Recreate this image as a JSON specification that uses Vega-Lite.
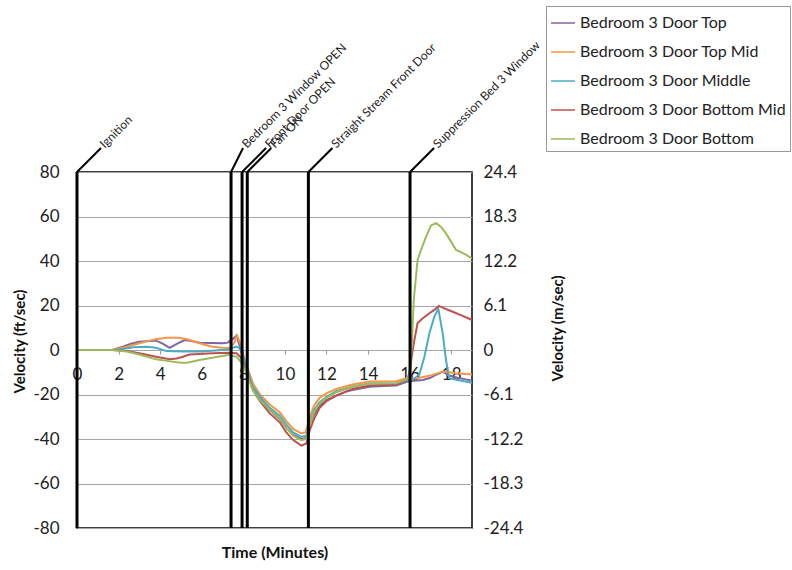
{
  "$schema": "https://vega.github.io/schema/vega-lite/v6.json",
  "width": 395,
  "height": 356,
  "autosize": {"type": "none"},
  "padding": {"left": 77, "top": 172, "right": 320, "bottom": 42},
  "background": "white",
  "config": {
    "font": "Lato",
    "view": {"stroke": "#000", "strokeWidth": 1.5},
    "axis": {"labelFont": "Lato", "labelFontSize": 17, "labelColor": "#222", "titleFont": "Lato", "titleFontSize": 15, "titleFontWeight": "bold", "titleColor": "#111"}
  },
  "datasets": {
    "series": [
      {"s":"Bedroom 3 Door Top","t":0,"v":0},{"s":"Bedroom 3 Door Top","t":1,"v":0},{"s":"Bedroom 3 Door Top","t":1.7,"v":0},{"s":"Bedroom 3 Door Top","t":2.2,"v":1.5},{"s":"Bedroom 3 Door Top","t":2.6,"v":2.8},{"s":"Bedroom 3 Door Top","t":3.0,"v":3.7},{"s":"Bedroom 3 Door Top","t":3.5,"v":4.0},{"s":"Bedroom 3 Door Top","t":3.8,"v":4.2},{"s":"Bedroom 3 Door Top","t":4.1,"v":3.0},{"s":"Bedroom 3 Door Top","t":4.46,"v":1.0},{"s":"Bedroom 3 Door Top","t":4.8,"v":2.8},{"s":"Bedroom 3 Door Top","t":5.18,"v":4.5},{"s":"Bedroom 3 Door Top","t":5.5,"v":4.0},{"s":"Bedroom 3 Door Top","t":5.9,"v":3.3},{"s":"Bedroom 3 Door Top","t":6.5,"v":3.2},{"s":"Bedroom 3 Door Top","t":7.0,"v":3.0},{"s":"Bedroom 3 Door Top","t":7.25,"v":3.3},{"s":"Bedroom 3 Door Top","t":7.5,"v":5.0},{"s":"Bedroom 3 Door Top","t":7.67,"v":6.5},{"s":"Bedroom 3 Door Top","t":7.82,"v":2.0},{"s":"Bedroom 3 Door Top","t":8.0,"v":-4},{"s":"Bedroom 3 Door Top","t":8.2,"v":-10},{"s":"Bedroom 3 Door Top","t":8.46,"v":-17},{"s":"Bedroom 3 Door Top","t":8.8,"v":-22},{"s":"Bedroom 3 Door Top","t":9.27,"v":-27},{"s":"Bedroom 3 Door Top","t":9.75,"v":-31},{"s":"Bedroom 3 Door Top","t":10.07,"v":-35},{"s":"Bedroom 3 Door Top","t":10.4,"v":-38},{"s":"Bedroom 3 Door Top","t":10.79,"v":-40},{"s":"Bedroom 3 Door Top","t":11.03,"v":-39.5},{"s":"Bedroom 3 Door Top","t":11.2,"v":-33},{"s":"Bedroom 3 Door Top","t":11.4,"v":-29},{"s":"Bedroom 3 Door Top","t":11.67,"v":-25},{"s":"Bedroom 3 Door Top","t":12.0,"v":-22.5},{"s":"Bedroom 3 Door Top","t":12.47,"v":-20.5},{"s":"Bedroom 3 Door Top","t":13.0,"v":-18.5},{"s":"Bedroom 3 Door Top","t":13.25,"v":-18},{"s":"Bedroom 3 Door Top","t":14.07,"v":-16.5},{"s":"Bedroom 3 Door Top","t":14.5,"v":-16.3},{"s":"Bedroom 3 Door Top","t":15.35,"v":-16},{"s":"Bedroom 3 Door Top","t":15.9,"v":-14.2},{"s":"Bedroom 3 Door Top","t":16.2,"v":-13.8},{"s":"Bedroom 3 Door Top","t":16.63,"v":-13.5},{"s":"Bedroom 3 Door Top","t":17.0,"v":-12.5},{"s":"Bedroom 3 Door Top","t":17.3,"v":-11},{"s":"Bedroom 3 Door Top","t":17.6,"v":-9.7},{"s":"Bedroom 3 Door Top","t":17.9,"v":-11.5},{"s":"Bedroom 3 Door Top","t":18.3,"v":-12.5},{"s":"Bedroom 3 Door Top","t":18.7,"v":-13.2},{"s":"Bedroom 3 Door Top","t":19.0,"v":-13.8},

      {"s":"Bedroom 3 Door Top Mid","t":0,"v":0},{"s":"Bedroom 3 Door Top Mid","t":1.7,"v":0},{"s":"Bedroom 3 Door Top Mid","t":2.2,"v":1},{"s":"Bedroom 3 Door Top Mid","t":2.6,"v":2},{"s":"Bedroom 3 Door Top Mid","t":3.0,"v":3},{"s":"Bedroom 3 Door Top Mid","t":3.4,"v":4},{"s":"Bedroom 3 Door Top Mid","t":3.8,"v":4.8},{"s":"Bedroom 3 Door Top Mid","t":4.3,"v":5.5},{"s":"Bedroom 3 Door Top Mid","t":4.9,"v":5.5},{"s":"Bedroom 3 Door Top Mid","t":5.3,"v":4.8},{"s":"Bedroom 3 Door Top Mid","t":5.9,"v":3},{"s":"Bedroom 3 Door Top Mid","t":6.5,"v":1.5},{"s":"Bedroom 3 Door Top Mid","t":7.0,"v":1.0},{"s":"Bedroom 3 Door Top Mid","t":7.35,"v":0.9},{"s":"Bedroom 3 Door Top Mid","t":7.55,"v":3},{"s":"Bedroom 3 Door Top Mid","t":7.7,"v":6.5},{"s":"Bedroom 3 Door Top Mid","t":7.85,"v":3},{"s":"Bedroom 3 Door Top Mid","t":8.0,"v":-2},{"s":"Bedroom 3 Door Top Mid","t":8.2,"v":-8},{"s":"Bedroom 3 Door Top Mid","t":8.46,"v":-15},{"s":"Bedroom 3 Door Top Mid","t":8.8,"v":-20},{"s":"Bedroom 3 Door Top Mid","t":9.27,"v":-24.5},{"s":"Bedroom 3 Door Top Mid","t":9.75,"v":-28},{"s":"Bedroom 3 Door Top Mid","t":10.07,"v":-32},{"s":"Bedroom 3 Door Top Mid","t":10.4,"v":-35.5},{"s":"Bedroom 3 Door Top Mid","t":10.79,"v":-37.5},{"s":"Bedroom 3 Door Top Mid","t":11.0,"v":-37},{"s":"Bedroom 3 Door Top Mid","t":11.2,"v":-30},{"s":"Bedroom 3 Door Top Mid","t":11.4,"v":-25},{"s":"Bedroom 3 Door Top Mid","t":11.67,"v":-21.5},{"s":"Bedroom 3 Door Top Mid","t":12.0,"v":-19.5},{"s":"Bedroom 3 Door Top Mid","t":12.47,"v":-17.5},{"s":"Bedroom 3 Door Top Mid","t":13.25,"v":-15.5},{"s":"Bedroom 3 Door Top Mid","t":14.07,"v":-14.2},{"s":"Bedroom 3 Door Top Mid","t":15.35,"v":-14},{"s":"Bedroom 3 Door Top Mid","t":15.9,"v":-12.6},{"s":"Bedroom 3 Door Top Mid","t":16.3,"v":-12.8},{"s":"Bedroom 3 Door Top Mid","t":17.0,"v":-11.5},{"s":"Bedroom 3 Door Top Mid","t":17.6,"v":-9.7},{"s":"Bedroom 3 Door Top Mid","t":18.23,"v":-10.5},{"s":"Bedroom 3 Door Top Mid","t":19.0,"v":-11},

      {"s":"Bedroom 3 Door Middle","t":0,"v":0},{"s":"Bedroom 3 Door Middle","t":1.7,"v":0},{"s":"Bedroom 3 Door Middle","t":2.2,"v":0.5},{"s":"Bedroom 3 Door Middle","t":2.7,"v":1.2},{"s":"Bedroom 3 Door Middle","t":3.34,"v":1.5},{"s":"Bedroom 3 Door Middle","t":3.8,"v":1.0},{"s":"Bedroom 3 Door Middle","t":4.3,"v":-0.5},{"s":"Bedroom 3 Door Middle","t":5.1,"v":-0.7},{"s":"Bedroom 3 Door Middle","t":5.9,"v":-0.7},{"s":"Bedroom 3 Door Middle","t":6.5,"v":-0.3},{"s":"Bedroom 3 Door Middle","t":7.25,"v":0.2},{"s":"Bedroom 3 Door Middle","t":7.67,"v":1.5},{"s":"Bedroom 3 Door Middle","t":7.85,"v":0.5},{"s":"Bedroom 3 Door Middle","t":8.0,"v":-3},{"s":"Bedroom 3 Door Middle","t":8.2,"v":-9},{"s":"Bedroom 3 Door Middle","t":8.46,"v":-16.5},{"s":"Bedroom 3 Door Middle","t":8.8,"v":-21},{"s":"Bedroom 3 Door Middle","t":9.27,"v":-26},{"s":"Bedroom 3 Door Middle","t":9.75,"v":-29.5},{"s":"Bedroom 3 Door Middle","t":10.07,"v":-33.5},{"s":"Bedroom 3 Door Middle","t":10.4,"v":-37},{"s":"Bedroom 3 Door Middle","t":10.79,"v":-39},{"s":"Bedroom 3 Door Middle","t":11.03,"v":-38.5},{"s":"Bedroom 3 Door Middle","t":11.2,"v":-32},{"s":"Bedroom 3 Door Middle","t":11.4,"v":-27},{"s":"Bedroom 3 Door Middle","t":11.67,"v":-23.5},{"s":"Bedroom 3 Door Middle","t":12.0,"v":-21},{"s":"Bedroom 3 Door Middle","t":12.47,"v":-18.5},{"s":"Bedroom 3 Door Middle","t":13.25,"v":-16.5},{"s":"Bedroom 3 Door Middle","t":14.07,"v":-15},{"s":"Bedroom 3 Door Middle","t":15.35,"v":-15},{"s":"Bedroom 3 Door Middle","t":15.9,"v":-13.5},{"s":"Bedroom 3 Door Middle","t":16.2,"v":-13},{"s":"Bedroom 3 Door Middle","t":16.47,"v":-11},{"s":"Bedroom 3 Door Middle","t":16.71,"v":-3},{"s":"Bedroom 3 Door Middle","t":16.95,"v":7.5},{"s":"Bedroom 3 Door Middle","t":17.19,"v":15},{"s":"Bedroom 3 Door Middle","t":17.38,"v":18.5},{"s":"Bedroom 3 Door Middle","t":17.59,"v":7.5},{"s":"Bedroom 3 Door Middle","t":17.75,"v":-4.5},{"s":"Bedroom 3 Door Middle","t":17.9,"v":-12.7},{"s":"Bedroom 3 Door Middle","t":18.3,"v":-13.5},{"s":"Bedroom 3 Door Middle","t":19.0,"v":-14.7},

      {"s":"Bedroom 3 Door Bottom Mid","t":0,"v":0},{"s":"Bedroom 3 Door Bottom Mid","t":1.7,"v":0},{"s":"Bedroom 3 Door Bottom Mid","t":2.4,"v":-0.4},{"s":"Bedroom 3 Door Bottom Mid","t":3.0,"v":-1.5},{"s":"Bedroom 3 Door Bottom Mid","t":3.8,"v":-3},{"s":"Bedroom 3 Door Bottom Mid","t":4.46,"v":-4.2},{"s":"Bedroom 3 Door Bottom Mid","t":4.8,"v":-3.8},{"s":"Bedroom 3 Door Bottom Mid","t":5.1,"v":-3},{"s":"Bedroom 3 Door Bottom Mid","t":5.4,"v":-2},{"s":"Bedroom 3 Door Bottom Mid","t":5.9,"v":-1.8},{"s":"Bedroom 3 Door Bottom Mid","t":6.5,"v":-1.5},{"s":"Bedroom 3 Door Bottom Mid","t":7.25,"v":-1.2},{"s":"Bedroom 3 Door Bottom Mid","t":7.67,"v":-1.5},{"s":"Bedroom 3 Door Bottom Mid","t":7.85,"v":-3},{"s":"Bedroom 3 Door Bottom Mid","t":8.0,"v":-6},{"s":"Bedroom 3 Door Bottom Mid","t":8.2,"v":-11},{"s":"Bedroom 3 Door Bottom Mid","t":8.46,"v":-18},{"s":"Bedroom 3 Door Bottom Mid","t":8.8,"v":-23},{"s":"Bedroom 3 Door Bottom Mid","t":9.27,"v":-28.5},{"s":"Bedroom 3 Door Bottom Mid","t":9.75,"v":-32.5},{"s":"Bedroom 3 Door Bottom Mid","t":10.07,"v":-37},{"s":"Bedroom 3 Door Bottom Mid","t":10.4,"v":-40.5},{"s":"Bedroom 3 Door Bottom Mid","t":10.79,"v":-43},{"s":"Bedroom 3 Door Bottom Mid","t":11.03,"v":-42},{"s":"Bedroom 3 Door Bottom Mid","t":11.2,"v":-36},{"s":"Bedroom 3 Door Bottom Mid","t":11.4,"v":-31},{"s":"Bedroom 3 Door Bottom Mid","t":11.67,"v":-26},{"s":"Bedroom 3 Door Bottom Mid","t":12.0,"v":-23},{"s":"Bedroom 3 Door Bottom Mid","t":12.47,"v":-20.5},{"s":"Bedroom 3 Door Bottom Mid","t":13.25,"v":-17.5},{"s":"Bedroom 3 Door Bottom Mid","t":14.07,"v":-16},{"s":"Bedroom 3 Door Bottom Mid","t":15.35,"v":-15.5},{"s":"Bedroom 3 Door Bottom Mid","t":15.9,"v":-13},{"s":"Bedroom 3 Door Bottom Mid","t":15.98,"v":-10.5},{"s":"Bedroom 3 Door Bottom Mid","t":16.2,"v":3},{"s":"Bedroom 3 Door Bottom Mid","t":16.38,"v":12},{"s":"Bedroom 3 Door Bottom Mid","t":16.62,"v":14.2},{"s":"Bedroom 3 Door Bottom Mid","t":16.95,"v":16.5},{"s":"Bedroom 3 Door Bottom Mid","t":17.19,"v":18},{"s":"Bedroom 3 Door Bottom Mid","t":17.4,"v":19.8},{"s":"Bedroom 3 Door Bottom Mid","t":17.67,"v":18.7},{"s":"Bedroom 3 Door Bottom Mid","t":18.07,"v":17.2},{"s":"Bedroom 3 Door Bottom Mid","t":18.47,"v":15.7},{"s":"Bedroom 3 Door Bottom Mid","t":19.0,"v":13.5},

      {"s":"Bedroom 3 Door Bottom","t":0,"v":0},{"s":"Bedroom 3 Door Bottom","t":1.7,"v":0},{"s":"Bedroom 3 Door Bottom","t":2.4,"v":-0.7},{"s":"Bedroom 3 Door Bottom","t":3.0,"v":-2},{"s":"Bedroom 3 Door Bottom","t":3.8,"v":-4.2},{"s":"Bedroom 3 Door Bottom","t":4.4,"v":-5},{"s":"Bedroom 3 Door Bottom","t":5.0,"v":-5.7},{"s":"Bedroom 3 Door Bottom","t":5.3,"v":-5.7},{"s":"Bedroom 3 Door Bottom","t":5.9,"v":-4.5},{"s":"Bedroom 3 Door Bottom","t":6.5,"v":-3.5},{"s":"Bedroom 3 Door Bottom","t":7.25,"v":-2.2},{"s":"Bedroom 3 Door Bottom","t":7.67,"v":-3},{"s":"Bedroom 3 Door Bottom","t":7.85,"v":-5},{"s":"Bedroom 3 Door Bottom","t":8.0,"v":-7},{"s":"Bedroom 3 Door Bottom","t":8.2,"v":-11.5},{"s":"Bedroom 3 Door Bottom","t":8.46,"v":-18},{"s":"Bedroom 3 Door Bottom","t":8.8,"v":-22.5},{"s":"Bedroom 3 Door Bottom","t":9.27,"v":-27},{"s":"Bedroom 3 Door Bottom","t":9.75,"v":-30.5},{"s":"Bedroom 3 Door Bottom","t":10.07,"v":-35},{"s":"Bedroom 3 Door Bottom","t":10.4,"v":-38.5},{"s":"Bedroom 3 Door Bottom","t":10.79,"v":-40.5},{"s":"Bedroom 3 Door Bottom","t":11.03,"v":-40},{"s":"Bedroom 3 Door Bottom","t":11.2,"v":-33},{"s":"Bedroom 3 Door Bottom","t":11.4,"v":-28},{"s":"Bedroom 3 Door Bottom","t":11.67,"v":-24},{"s":"Bedroom 3 Door Bottom","t":12.0,"v":-21.5},{"s":"Bedroom 3 Door Bottom","t":12.47,"v":-19},{"s":"Bedroom 3 Door Bottom","t":13.25,"v":-16.5},{"s":"Bedroom 3 Door Bottom","t":14.07,"v":-15.2},{"s":"Bedroom 3 Door Bottom","t":15.35,"v":-15},{"s":"Bedroom 3 Door Bottom","t":15.9,"v":-13},{"s":"Bedroom 3 Door Bottom","t":16.0,"v":-11},{"s":"Bedroom 3 Door Bottom","t":16.1,"v":2},{"s":"Bedroom 3 Door Bottom","t":16.2,"v":22.5},{"s":"Bedroom 3 Door Bottom","t":16.38,"v":40.4},{"s":"Bedroom 3 Door Bottom","t":16.55,"v":45},{"s":"Bedroom 3 Door Bottom","t":16.79,"v":51},{"s":"Bedroom 3 Door Bottom","t":17.03,"v":56},{"s":"Bedroom 3 Door Bottom","t":17.27,"v":57},{"s":"Bedroom 3 Door Bottom","t":17.5,"v":55.4},{"s":"Bedroom 3 Door Bottom","t":17.75,"v":52.4},{"s":"Bedroom 3 Door Bottom","t":17.99,"v":48.7},{"s":"Bedroom 3 Door Bottom","t":18.23,"v":45},{"s":"Bedroom 3 Door Bottom","t":18.55,"v":43.7},{"s":"Bedroom 3 Door Bottom","t":19.0,"v":41.2}
    ],
    "events": [
      {"event":"Ignition","t":0},
      {"event":"Bedroom 3 Window OPEN","t":7.41},
      {"event":"Front Door OPEN","t":7.94},
      {"event":"Fan ON","t":8.19},
      {"event":"Straight Stream Front Door","t":11.13},
      {"event":"Suppression Bed 3 Window","t":16.02}
    ]
  },
  "layer": [
    {
      "layer": [
        {
          "data": {"name": "series"},
          "mark": {"type": "line", "strokeWidth": 2, "clip": true},
          "encoding": {
            "x": {"field": "t", "type": "quantitative", "scale": {"domain": [0, 19], "nice": false, "zero": false},
                  "axis": {"title": "Time (Minutes)", "values": [0,2,4,6,8,10,12,14,16,18], "offset": -178, "domain": false, "ticks": true, "tickSize": 4, "tickColor": "#999", "labelPadding": 12, "labelFlush": false, "labelOverlap": false, "grid": false, "titleY": 202, "titleBaseline": "middle", "titleFontSize": 16}},
            "y": {"field": "v", "type": "quantitative", "scale": {"domain": [-80, 80], "nice": false, "zero": false},
                  "axis": {"title": "Velocity (ft/sec)", "values": [-80,-60,-40,-20,0,20,40,60,80], "labelExpr": "'' + datum.value", "domain": false, "ticks": false, "labelPadding": 18, "grid": true, "gridColor": "#A6A6A6", "gridWidth": 1, "titleX": -58, "titleY": 169, "titleAngle": 270, "titleBaseline": "middle", "titleAlign": "center"}},
            "color": {"field": "s", "type": "nominal",
                      "scale": {"domain": ["Bedroom 3 Door Top","Bedroom 3 Door Top Mid","Bedroom 3 Door Middle","Bedroom 3 Door Bottom Mid","Bedroom 3 Door Bottom"],
                                "range": ["#8064A2","#F79646","#4BACC6","#C0504D","#9BBB59"]},
                      "legend": {"title": null, "orient": "none", "legendX": 469, "legendY": -166, "labelFont": "Lato", "labelFontSize": 16, "labelColor": "#222", "labelLimit": 400, "symbolType": "stroke", "symbolSize": 576, "symbolStrokeWidth": 1.5, "strokeColor": "#999", "fillColor": "white", "padding": 4, "rowPadding": 8, "labelOffset": 4}}
          }
        },
        {
          "data": {"name": "events"},
          "mark": {"type": "rule", "strokeWidth": 3, "color": "#000"},
          "encoding": {
            "x": {"field": "t", "type": "quantitative"},
            "y": {"datum": -80, "type": "quantitative"},
            "y2": {"datum": 80}
          }
        },
        {
          "data": {"name": "events"},
          "transform": [{"filter": "datum.event != 'Bedroom 3 Window OPEN'"}],
          "mark": {"type": "rule", "strokeWidth": 2, "color": "#000", "x2Offset": 24, "y2Offset": -24},
          "encoding": {
            "x": {"field": "t", "type": "quantitative"},
            "x2": {"field": "t"},
            "y": {"datum": 80, "type": "quantitative"},
            "y2": {"datum": 80}
          }
        },
        {
          "data": {"name": "events"},
          "transform": [{"filter": "datum.event == 'Bedroom 3 Window OPEN'"}],
          "mark": {"type": "rule", "strokeWidth": 2, "color": "#000", "x2Offset": 12, "y2Offset": -24},
          "encoding": {
            "x": {"field": "t", "type": "quantitative"},
            "x2": {"field": "t"},
            "y": {"datum": 80, "type": "quantitative"},
            "y2": {"datum": 80}
          }
        },
        {
          "data": {"name": "events"},
          "transform": [{"filter": "datum.event != 'Bedroom 3 Window OPEN'"}],
          "mark": {"type": "text", "angle": 315, "align": "left", "baseline": "middle", "xOffset": 25, "yOffset": -26, "fontSize": 12, "font": "Lato", "color": "#222"},
          "encoding": {
            "x": {"field": "t", "type": "quantitative"},
            "y": {"datum": 80, "type": "quantitative"},
            "text": {"field": "event"}
          }
        },
        {
          "data": {"name": "events"},
          "transform": [{"filter": "datum.event == 'Bedroom 3 Window OPEN'"}],
          "mark": {"type": "text", "angle": 315, "align": "left", "baseline": "middle", "xOffset": 13, "yOffset": -26, "fontSize": 12, "font": "Lato", "color": "#222"},
          "encoding": {
            "x": {"field": "t", "type": "quantitative"},
            "y": {"datum": 80, "type": "quantitative"},
            "text": {"field": "event"}
          }
        }
      ]
    },
    {
      "data": {"name": "series"},
      "mark": {"type": "point", "opacity": 0, "clip": true},
      "encoding": {
        "x": {"field": "t", "type": "quantitative"},
        "y": {"field": "v", "type": "quantitative", "scale": {"domain": [-24.4, 24.4], "nice": false, "zero": false},
              "axis": {"orient": "right", "title": "Velocity (m/sec)", "values": [-24.4,-18.3,-12.2,-6.1,0,6.1,12.2,18.3,24.4], "labelExpr": "'' + datum.value", "domain": false, "ticks": false, "grid": false, "labelPadding": 11, "titleX": 85, "titleY": 156, "titleAngle": 270, "titleBaseline": "middle", "titleAlign": "center"}}
      }
    }
  ],
  "resolve": {"scale": {"y": "independent"}}
}
